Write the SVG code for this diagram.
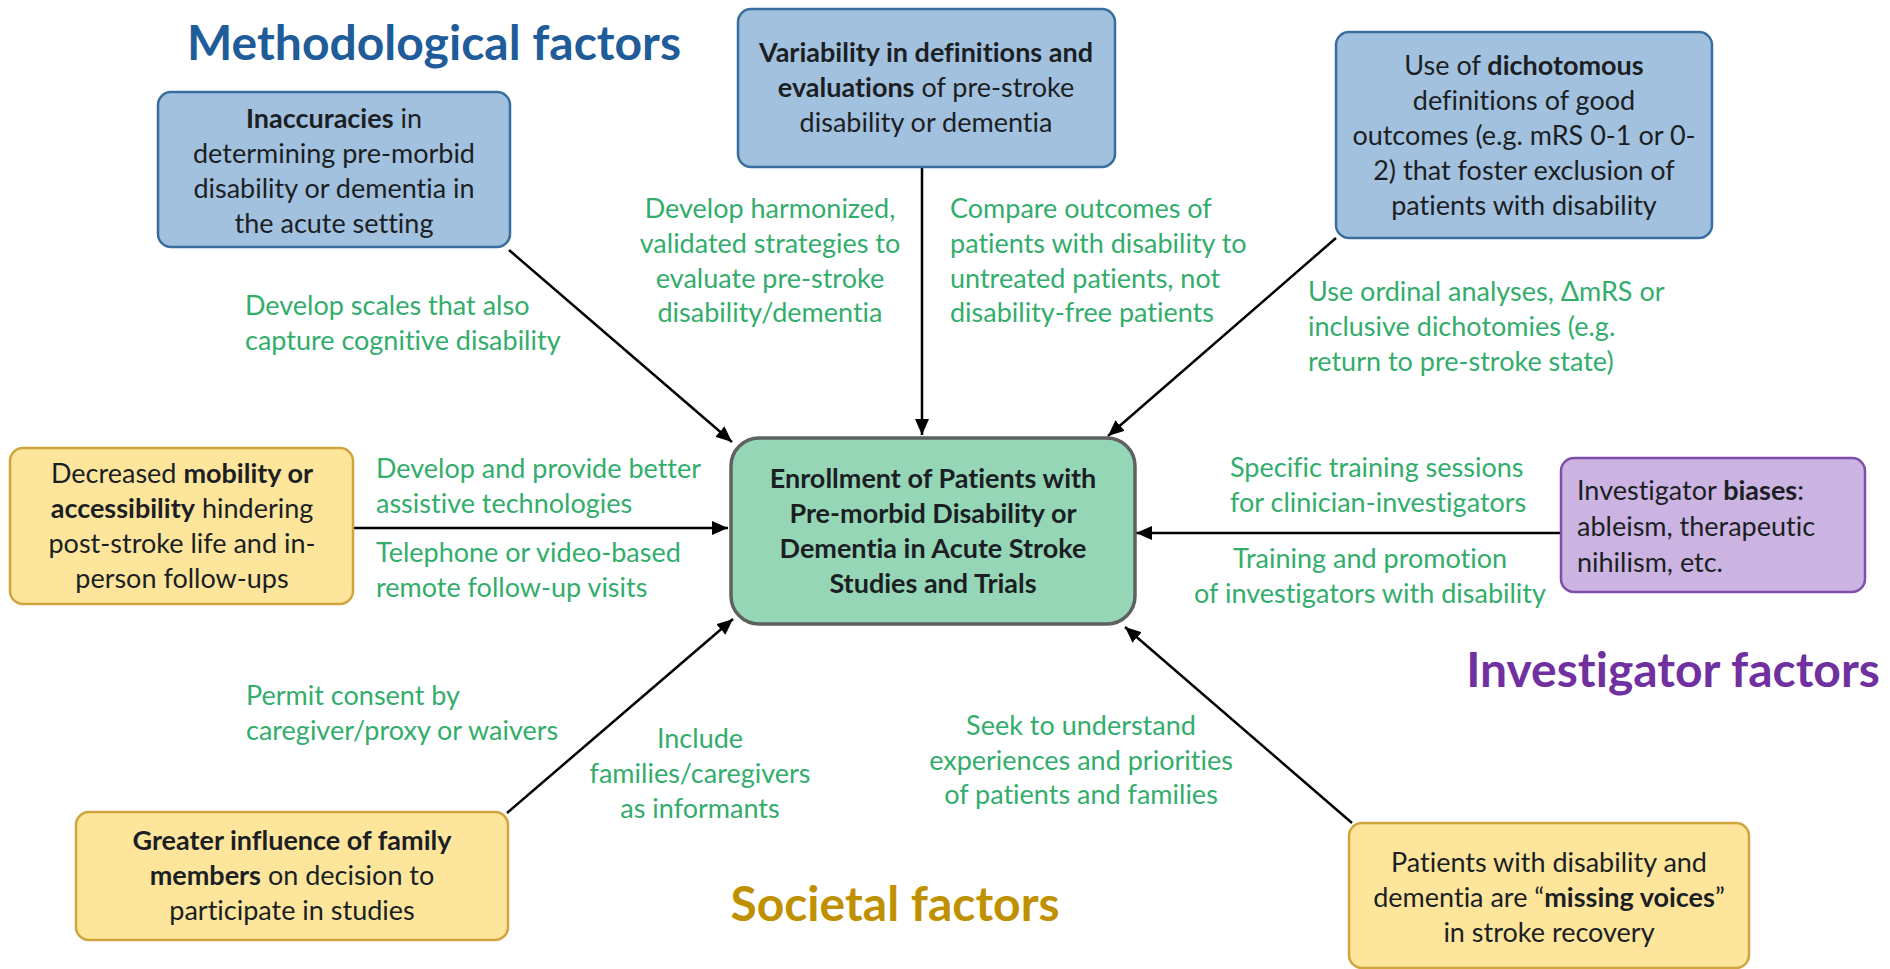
<svg xmlns="http://www.w3.org/2000/svg" width="1890" height="969" viewBox="0 0 1890 969">
<defs>
<style>
text{font-variant-ligatures:none;font-feature-settings:"liga" 0,"clig" 0}
.box-blue{fill:#a2c1de;stroke:#3a6e9e;stroke-width:2.5}
.box-yellow{fill:#fde59b;stroke:#cfa53c;stroke-width:2.5}
.box-purple{fill:#cbb3e2;stroke:#7d4fab;stroke-width:2.5}
.box-center{fill:#95d6b7;stroke:#5e615f;stroke-width:3.5}
.t{font-family:Lato,"Liberation Sans",sans-serif;font-size:27px;fill:#1b1f24}
.c{text-anchor:middle}
.b{font-weight:bold}
.g{font-family:Lato,"Liberation Sans",sans-serif;font-size:27px;fill:#33ad6c}
.h{font-family:Lato,"Liberation Sans",sans-serif;font-size:48px;font-weight:bold;text-anchor:middle}
.conn line{stroke:#000;stroke-width:2.5}
</style>
<marker id="arr" markerUnits="userSpaceOnUse" markerWidth="18" markerHeight="14" refX="16" refY="7" orient="auto">
<path d="M0,0 L16,7 L0,14 z" fill="#000"/>
</marker>
</defs>
<rect width="1890" height="969" fill="#fff"/>

<g id="headings">
<text class="h" x="434" y="60" fill="#1f5c9a">Methodological factors</text>
<text class="h" x="1673" y="687" fill="#7030a0">Investigator factors</text>
<text class="h" x="895" y="921" fill="#bf9000">Societal factors</text>
</g>

<g class="conn" id="connectors">
<line x1="509" y1="250" x2="732" y2="442" marker-end="url(#arr)"/>
<line x1="922" y1="167" x2="922" y2="435" marker-end="url(#arr)"/>
<line x1="1336" y1="238" x2="1108" y2="436" marker-end="url(#arr)"/>
<line x1="353" y1="528" x2="728" y2="528" marker-end="url(#arr)"/>
<line x1="1561" y1="533" x2="1136" y2="533" marker-end="url(#arr)"/>
<line x1="507" y1="813" x2="733" y2="619" marker-end="url(#arr)"/>
<line x1="1352" y1="823" x2="1125" y2="627" marker-end="url(#arr)"/>
</g>

<g id="node-inaccuracies">
<rect class="box-blue" x="158" y="92" width="352" height="155" rx="13"/>
<text class="t c" x="334" y="128"><tspan class="b">Inaccuracies</tspan> in</text>
<text class="t c" x="334" y="163">determining pre-morbid</text>
<text class="t c" x="334" y="198">disability or dementia in</text>
<text class="t c" x="334" y="233">the acute setting</text>
</g>

<g id="node-variability">
<rect class="box-blue" x="738" y="9" width="377" height="158" rx="13"/>
<text class="t c" x="926" y="62"><tspan class="b">Variability in definitions and</tspan></text>
<text class="t c" x="926" y="97"><tspan class="b">evaluations</tspan> of pre-stroke</text>
<text class="t c" x="926" y="132">disability or dementia</text>
</g>

<g id="node-dichotomous">
<rect class="box-blue" x="1336" y="32" width="376" height="206" rx="13"/>
<text class="t c" x="1524" y="75">Use of <tspan class="b">dichotomous</tspan></text>
<text class="t c" x="1524" y="110">definitions of good</text>
<text class="t c" x="1524" y="145">outcomes (e.g. mRS 0-1 or 0-</text>
<text class="t c" x="1524" y="180">2) that foster exclusion of</text>
<text class="t c" x="1524" y="215">patients with disability</text>
</g>

<g id="node-mobility">
<rect class="box-yellow" x="10" y="448" width="343" height="156" rx="13"/>
<text class="t c" x="182" y="483">Decreased <tspan class="b">mobility or</tspan></text>
<text class="t c" x="182" y="518"><tspan class="b">accessibility</tspan> hindering</text>
<text class="t c" x="182" y="553">post-stroke life and in-</text>
<text class="t c" x="182" y="588">person follow-ups</text>
</g>

<g id="node-center">
<rect class="box-center" x="731" y="438" width="404" height="186" rx="28"/>
<text class="t c b" x="933" y="488">Enrollment of Patients with</text>
<text class="t c b" x="933" y="523">Pre-morbid Disability or</text>
<text class="t c b" x="933" y="558">Dementia in Acute Stroke</text>
<text class="t c b" x="933" y="593">Studies and Trials</text>
</g>

<g id="node-investigator">
<rect class="box-purple" x="1561" y="458" width="304" height="134" rx="13"/>
<text class="t" x="1577" y="500">Investigator <tspan class="b">biases</tspan>:</text>
<text class="t" x="1577" y="536">ableism, therapeutic</text>
<text class="t" x="1577" y="572">nihilism, etc.</text>
</g>

<g id="node-family">
<rect class="box-yellow" x="76" y="812" width="432" height="128" rx="13"/>
<text class="t c" x="292" y="850"><tspan class="b">Greater influence of family</tspan></text>
<text class="t c" x="292" y="885"><tspan class="b">members</tspan> on decision to</text>
<text class="t c" x="292" y="920">participate in studies</text>
</g>

<g id="node-voices">
<rect class="box-yellow" x="1349" y="823" width="400" height="145" rx="13"/>
<text class="t c" x="1549" y="872">Patients with disability and</text>
<text class="t c" x="1549" y="907">dementia are “<tspan class="b">missing voices</tspan>”</text>
<text class="t c" x="1549" y="942">in stroke recovery</text>
</g>

<g id="labels">
<text class="g c" x="770" y="218">Develop harmonized,</text>
<text class="g c" x="770" y="253">validated strategies to</text>
<text class="g c" x="770" y="288">evaluate pre-stroke</text>
<text class="g c" x="770" y="322">disability/dementia</text>

<text class="g" x="950" y="218">Compare outcomes of</text>
<text class="g" x="950" y="253">patients with disability to</text>
<text class="g" x="950" y="288">untreated patients, not</text>
<text class="g" x="950" y="322">disability-free patients</text>

<text class="g" x="245" y="315">Develop scales that also</text>
<text class="g" x="245" y="350">capture cognitive disability</text>

<text class="g" x="1308" y="301">Use ordinal analyses, ΔmRS or</text>
<text class="g" x="1308" y="336">inclusive dichotomies (e.g.</text>
<text class="g" x="1308" y="371">return to pre-stroke state)</text>

<text class="g" x="376" y="478">Develop and provide better</text>
<text class="g" x="376" y="513">assistive technologies</text>
<text class="g" x="376" y="562">Telephone or video-based</text>
<text class="g" x="376" y="597">remote follow-up visits</text>

<text class="g" x="1230" y="477">Specific training sessions</text>
<text class="g" x="1230" y="512">for clinician-investigators</text>
<text class="g c" x="1370" y="568">Training and promotion</text>
<text class="g c" x="1370" y="603">of investigators with disability</text>

<text class="g" x="246" y="705">Permit consent by</text>
<text class="g" x="246" y="740">caregiver/proxy or waivers</text>

<text class="g c" x="700" y="748">Include</text>
<text class="g c" x="700" y="783">families/caregivers</text>
<text class="g c" x="700" y="818">as informants</text>

<text class="g c" x="1081" y="735">Seek to understand</text>
<text class="g c" x="1081" y="770">experiences and priorities</text>
<text class="g c" x="1081" y="804">of patients and families</text>
</g>
</svg>
